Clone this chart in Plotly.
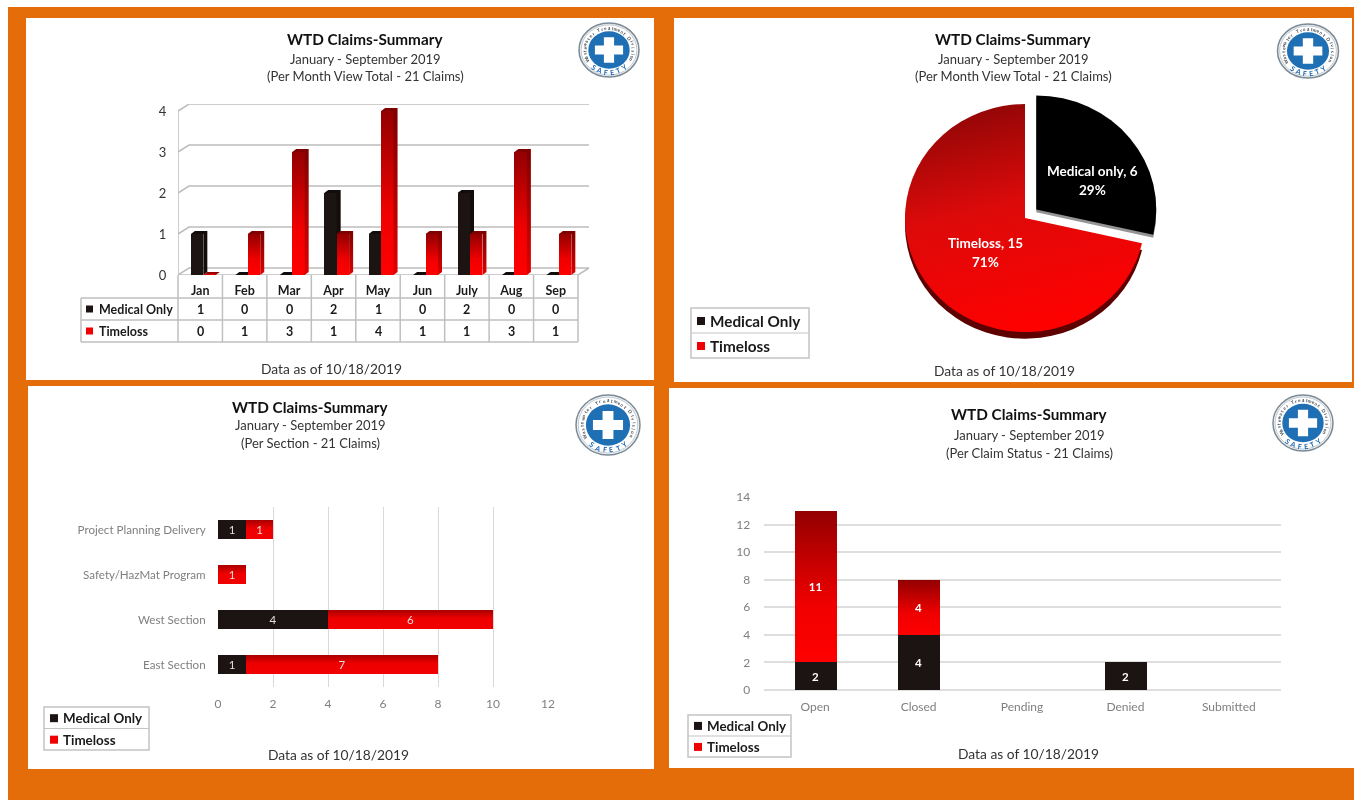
import math
import plotly.graph_objects as go

W, H = 1354, 800
ORANGE = "#E46D0A"
BLACK = "#1C1412"
RED = "#FF0000"
GRAY_TXT = "#7F7F7F"
DARK_TXT = "#262626"
FONT = "Lato"

# ---------- data ----------
months = ["Jan", "Feb", "Mar", "Apr", "May", "Jun", "July", "Aug", "Sep"]
month_medical = [1, 0, 0, 2, 1, 0, 2, 0, 0]
month_timeloss = [0, 1, 3, 1, 4, 1, 1, 3, 1]
pie_labels = ["Medical only", "Timeloss"]
pie_values = [6, 15]
sections = ["East Section", "West Section", "Safety/HazMat Program", "Project Planning Delivery"]
section_medical = [1, 4, 0, 1]
section_timeloss = [7, 6, 1, 1]
statuses = ["Open", "Closed", "Pending", "Denied", "Submitted"]
status_medical = [2, 4, 0, 2, 0]
status_timeloss = [11, 4, 0, 0, 0]
month_ticks = [0, 1, 2, 3, 4]
section_ticks = [0, 2, 4, 6, 8, 10, 12]
status_ticks = [0, 2, 4, 6, 8, 10, 12, 14]
title_main = "WTD Claims-Summary"
title_period = "January - September 2019"
subtitles = ["(Per Month View Total - 21 Claims)", "(Per Month View Total - 21 Claims)",
             "(Per Section - 21 Claims)", "(Per Claim Status - 21 Claims)"]
data_note = "Data as of 10/18/2019"
series_names = ["Medical Only", "Timeloss"]


def px(x):
    return x / W


def py(y):
    return 1 - y / H


shapes, annotations = [], []


def rect(x0, y0, x1, y1, fill=None, line=None, lw=1, layer="below"):
    shapes.append(dict(type="rect", xref="paper", yref="paper", x0=px(x0), x1=px(x1), y0=py(y0), y1=py(y1),
                       fillcolor=fill or "rgba(0,0,0,0)", line=dict(color=line or "rgba(0,0,0,0)", width=lw if line else 0),
                       layer=layer))


def hline(x0, y0, x1, y1, color="#BFBFBF", lw=1.5, layer="below"):
    shapes.append(dict(type="line", xref="paper", yref="paper", x0=px(x0), x1=px(x1), y0=py(y0), y1=py(y1),
                       line=dict(color=color, width=lw), layer=layer))


def text(x, y, s, size=12, color=DARK_TXT, bold=False, anchor="center", angle=0):
    annotations.append(dict(xref="paper", yref="paper", x=px(x), y=py(y), text=f"<b>{s}</b>" if bold else s,
                            showarrow=False, xanchor=anchor, yanchor="middle", textangle=angle,
                            font=dict(family=FONT, size=size, color=color)))


def titles(cx, ys, sub, note_x, note_y):
    text(cx, ys[0] - 0.5, title_main, size=15.3, color="#111111", bold=True)
    text(cx, ys[1], title_period, size=13, color="#333333")
    text(cx, ys[2], sub, size=13, color="#333333")
    text(note_x, note_y, data_note, size=13.8, color="#333333")


def legend(x0, y0, x1, y1, size):
    rect(x0, y0, x1, y1, fill="white", line="#C4C4C4", lw=1.5)
    mid = (y0 + y1) / 2
    hline(x0, mid, x1, mid, color="#C4C4C4", lw=1.2)
    for i, (name, col) in enumerate(zip(series_names, [BLACK, "#F00000"])):
        yc = y0 + (y1 - y0) * (0.26 + 0.5 * i)
        rect(x0 + 6, yc - 4, x0 + 14, yc + 4, fill=col)
        text(x0 + 17, yc, name, size=size, color="#1A1A1A", bold=True, anchor="left")


LOGO_TOP = "Wastewater Treatment Division"
LOGO_BOTTOM = "SAFETY"


def logo(cx, cy, rx, ry):
    def ell(rx_, ry_, fill, line=None, lw=0):
        shapes.append(dict(type="circle", xref="paper", yref="paper", x0=px(cx - rx_), x1=px(cx + rx_),
                           y0=py(cy - ry_), y1=py(cy + ry_), fillcolor=fill,
                           line=dict(color=line or "rgba(0,0,0,0)", width=lw), layer="above"))
    ell(rx, ry, "#F2F2F2", "#7A8A96", 1.5)
    ell(rx * 0.93, ry * 0.93, "white", "#B5BEC6", 0.8)
    ell(rx * 0.69, ry * 0.69, "#1F6FB5")
    a, b = rx * 0.47, ry * 0.47
    t_x, t_y = rx * 0.17, ry * 0.17
    path = (f"M {px(cx-t_x)} {py(cy-b)} L {px(cx+t_x)} {py(cy-b)} L {px(cx+t_x)} {py(cy-t_y)} "
            f"L {px(cx+a)} {py(cy-t_y)} L {px(cx+a)} {py(cy+t_y)} L {px(cx+t_x)} {py(cy+t_y)} "
            f"L {px(cx+t_x)} {py(cy+b)} L {px(cx-t_x)} {py(cy+b)} L {px(cx-t_x)} {py(cy+t_y)} "
            f"L {px(cx-a)} {py(cy+t_y)} L {px(cx-a)} {py(cy-t_y)} L {px(cx-t_x)} {py(cy-t_y)} Z")
    shapes.append(dict(type="path", xref="paper", yref="paper", path=path, fillcolor="white",
                       line=dict(width=0), layer="above"))
    n = len(LOGO_TOP)
    span = 235.0
    for i, ch in enumerate(LOGO_TOP):
        ang = -span / 2 + span * i / (n - 1)
        r = math.radians(ang)
        text(cx + rx * 0.82 * math.sin(r), cy - ry * 0.82 * math.cos(r), ch, size=4.6, color="#404A52",
             bold=True, angle=ang)
    n = len(LOGO_BOTTOM)
    span = 76.0
    for i, ch in enumerate(LOGO_BOTTOM):
        ang = -span / 2 + span * i / (n - 1)
        r = math.radians(ang)
        text(cx + rx * 0.82 * math.sin(r), cy + ry * 0.82 * math.cos(r), ch, size=7, color="#1A66B0",
             bold=True, angle=-ang)


# ---------- panels ----------
rect(8, 7, W, H, fill=ORANGE)
rect(26, 18, 654, 380, fill="white")
rect(674, 18, 1352, 382, fill="white")
rect(28, 386, 654, 769, fill="white")
rect(669, 388, W, 768, fill="white")

titles(365, (40, 59, 76), subtitles[0], 331, 368)
titles(1013, (40, 59, 76), subtitles[1], 1005, 370)
titles(310, (407, 425, 443), subtitles[2], 338, 754)
titles(1029, (415, 435, 453), subtitles[3], 1028, 753)
logo(609, 50, 30, 27)
logo(1308, 51, 30.5, 27)
logo(608, 425, 32, 30)
logo(1303, 423, 30, 28)
legend(691, 308, 809, 358, 15.3)
legend(44, 707, 149, 750, 13.4)
legend(688, 715, 791, 757, 13.4)

fig = go.Figure()

# ---------- panel 1: pseudo 3-D clustered columns with data table ----------
P1_X0, P1_X1, P1_Y0, P1_Y4 = 178, 578, 275, 111
WALL_PX_X, WALL_PX_Y = 11, 7
cat_px = (P1_X1 - P1_X0) / len(months)
unit_px = (P1_Y0 - P1_Y4) / 4
wall_dx = WALL_PX_X / cat_px
wall_dy = WALL_PX_Y / unit_px
left, right = -0.5, len(months) - 0.5
wall_x, wall_y = [], []
for t in month_ticks:
    wall_x += [left, left + wall_dx, right + wall_dx, None]
    wall_y += [t, t + wall_dy, t + wall_dy, None]
wall_x += [left, left, None, right, right + wall_dx, None, left, right]
wall_y += [month_ticks[0], month_ticks[-1], None, 0, wall_dy, None, 0, 0]
fig.add_trace(go.Scatter(x=wall_x, y=wall_y, mode="lines", line=dict(color="#BDBDBD", width=1.5),
                         cliponaxis=False, hoverinfo="skip", showlegend=False, zorder=0))

bar_w = 0.28
side_dx = 4 / cat_px
side_dy = 3 / unit_px
series = [(series_names[0], month_medical, BLACK, -0.21, 1),
          (series_names[1], month_timeloss, RED, 0.07, 3)]
for name, vals, col, off, z in series:
    fig.add_trace(go.Bar(x=list(range(len(months))), y=vals, name=name, width=bar_w, offset=off,
                         marker=dict(color=col, line=dict(width=0)), showlegend=False, zorder=z))
    for i, v in enumerate(vals):
        xl = i + off
        xr = xl + bar_w
        kw = dict(fillcolor="#120C0B") if col == BLACK else dict(
            fillgradient=dict(type="vertical", colorscale=[[0, "#E00000"], [1, "#7E0000"]]))
        fig.add_trace(go.Scatter(
            x=[xr, xr + side_dx, xr + side_dx, xl + side_dx, xl, xr, xr],
            y=[0, side_dy, v + side_dy, v + side_dy, v, v, 0],
            mode="lines", line=dict(width=0), fill="toself", cliponaxis=False,
            hoverinfo="skip", showlegend=False, zorder=z + 1, **kw))

# data table
col_edges = [P1_X0 + cat_px * i for i in range(len(months) + 1)]
for xe in col_edges:
    hline(xe, P1_Y0, xe, 342)
hline(81, 298, 81, 342)
for yr in (298, 320, 342):
    hline(81, yr, P1_X1, yr)
for row, (name, vals, col, yc) in enumerate([(series_names[0], month_medical, BLACK, 309),
                                             (series_names[1], month_timeloss, "#F00000", 331)]):
    rect(86, yc - 3.5, 93, yc + 3.5, fill=col)
    text(97, yc, name, size=12.5, color="#1A1A1A", bold=True, anchor="left")
    for i, v in enumerate(vals):
        annotations.append(dict(xref="x", yref="paper", x=i, y=py(yc), text=f"<b>{v}</b>", showarrow=False,
                                font=dict(family=FONT, size=12.5, color="#1A1A1A")))

# ---------- panel 2: exploded pie ----------
PC_X, PC_Y, PC_R = 1025, 218, 134.4
PIE_SQUASH = 0.95
PIE_PULL = [0.12, 0]
for dy_, colors_ in [(7, ["rgba(0,0,0,0)", "#5E0000"]), (3, ["rgba(60,60,60,0.55)", "rgba(0,0,0,0)"])]:
    fig.add_trace(go.Pie(values=pie_values, labels=pie_labels, sort=False, direction="clockwise", rotation=0,
                         pull=PIE_PULL, textinfo="none", hoverinfo="skip", showlegend=False,
                         marker=dict(colors=colors_, line=dict(width=0)),
                         domain=dict(x=[px(PC_X - PC_R), px(PC_X + PC_R)],
                                     y=[py(PC_Y + dy_ + PC_R), py(PC_Y + dy_ - PC_R)])))
fig.add_trace(go.Pie(values=pie_values, labels=pie_labels, sort=False, direction="clockwise", rotation=0,
                     pull=PIE_PULL, textinfo="none", showlegend=False,
                     marker=dict(colors=["#000000", RED], line=dict(width=0)),
                     domain=dict(x=[px(PC_X - PC_R), px(PC_X + PC_R)],
                                 y=[py(PC_Y + PC_R), py(PC_Y - PC_R)])))
for lab, val, x_, y_ in zip(pie_labels, pie_values, (1092, 985), (171, 243)):
    text(x_, y_, f"{lab}, {val}", size=13.5, color="white", bold=True)
    text(x_, y_ + 19, f"{round(100 * val / sum(pie_values))}%", size=13.5, color="white", bold=True)


def label_vals(vals, bold=False):
    return [(f"<b>{v}</b>" if bold else str(v)) if v else "" for v in vals]


# ---------- panel 3: stacked horizontal bars ----------
fig.add_trace(go.Bar(y=sections, x=section_medical, orientation="h", name=series_names[0], xaxis="x2", yaxis="y2",
                     width=0.41, marker=dict(color=BLACK, line=dict(width=0)), text=label_vals(section_medical),
                     textposition="inside", insidetextanchor="middle", textangle=0, constraintext="none",
                     textfont=dict(family=FONT, size=11.5, color="#E4DCDC"), showlegend=False))
fig.add_trace(go.Bar(y=sections, x=section_timeloss, base=section_medical, orientation="h", name=series_names[1],
                     xaxis="x2", yaxis="y2", width=0.41, marker=dict(color=RED, line=dict(width=0)),
                     text=label_vals(section_timeloss), textposition="inside", insidetextanchor="middle",
                     textangle=0, constraintext="none", textfont=dict(family=FONT, size=11.5, color="#E4DCDC"),
                     showlegend=False))

# ---------- panel 4: stacked columns ----------
fig.add_trace(go.Bar(x=statuses, y=status_medical, name=series_names[0], xaxis="x3", yaxis="y3", width=0.405,
                     marker=dict(color=BLACK, line=dict(width=0)), text=label_vals(status_medical, True),
                     textposition="inside", insidetextanchor="middle", textangle=0, constraintext="none",
                     textfont=dict(family=FONT, size=11.5, color="white"), showlegend=False))
fig.add_trace(go.Bar(x=statuses, y=status_timeloss, base=status_medical, name=series_names[1], xaxis="x3", yaxis="y3",
                     width=0.405, marker=dict(color=RED, line=dict(width=0)), text=label_vals(status_timeloss, True),
                     textposition="inside", insidetextanchor="middle", textangle=0, constraintext="none",
                     textfont=dict(family=FONT, size=11.5, color="white"), showlegend=False))

tick_font = dict(family=FONT, size=12, color=GRAY_TXT)
fig.update_layout(
    width=W, height=H, autosize=False, margin=dict(l=0, r=0, t=0, b=0, autoexpand=False),
    paper_bgcolor="white", plot_bgcolor="rgba(0,0,0,0)", barmode="overlay", bargap=0,
    font=dict(family=FONT), shapes=shapes, annotations=annotations, showlegend=False,
    xaxis=dict(domain=[px(P1_X0), px(P1_X1 + WALL_PX_X)], range=[left, right + wall_dx], tickmode="array",
               tickvals=list(range(len(months))), ticktext=[f"<b>{m}</b>" for m in months],
               tickfont=dict(family=FONT, size=12.5, color="#1A1A1A"), ticks="outside", ticklen=4,
               tickcolor="rgba(0,0,0,0)", showgrid=False, zeroline=False, showline=False, fixedrange=True),
    yaxis=dict(domain=[py(P1_Y0), py(P1_Y4 - WALL_PX_Y)], range=[0, month_ticks[-1] + wall_dy], tickmode="array",
               tickvals=month_ticks, tickfont=dict(family=FONT, size=13, color="#333333"), ticks="outside", ticklen=8,
               tickcolor="rgba(0,0,0,0)", showgrid=False, zeroline=False, showline=False, fixedrange=True),
    xaxis2=dict(domain=[px(218), px(548)], range=[0, 12], anchor="y2", tickmode="array", tickvals=section_ticks,
                tickfont=tick_font, gridcolor="#D9D9D9", gridwidth=1.2, zeroline=False, showline=False, ticks="outside",
                ticklen=6, tickcolor="rgba(0,0,0,0)", fixedrange=True),
    yaxis2=dict(domain=[py(687), py(507)], range=[-0.5, 3.5], anchor="x2", type="category",
                categoryorder="array", categoryarray=sections,
                tickfont=dict(family=FONT, size=11.6, color=GRAY_TXT), showgrid=False,
                zeroline=False, showline=False, ticks="outside", ticklen=9, tickcolor="rgba(0,0,0,0)", fixedrange=True),
    xaxis3=dict(domain=[px(763.5), px(1280.5)], range=[-0.5, 4.5], anchor="y3", type="category",
                categoryorder="array", categoryarray=statuses, tickfont=tick_font, showgrid=False, zeroline=False,
                showline=False, ticks="outside", ticklen=6, tickcolor="rgba(0,0,0,0)", fixedrange=True),
    yaxis3=dict(domain=[py(690), py(497)], range=[0, 14], anchor="x3", tickmode="array", tickvals=status_ticks,
                tickfont=tick_font, gridcolor="#DEDEDE", gridwidth=1.5, zeroline=True, zerolinecolor="#DEDEDE",
                zerolinewidth=1.5, showline=False, ticks="outside", ticklen=10, tickcolor="rgba(0,0,0,0)", fixedrange=True),
)

post = """
document.body.style.margin = '0';
document.documentElement.style.overflow = 'hidden';
var gd = document.getElementById('{plot_id}');
var ns = 'http://www.w3.org/2000/svg';
var svg = gd.querySelector('svg.main-svg');
var defs = svg.querySelector('defs') || svg.insertBefore(document.createElementNS(ns, 'defs'), svg.firstChild);
function grad(id, stops, x1, y1, x2, y2) {
  var g = document.createElementNS(ns, 'linearGradient');
  g.setAttribute('id', id);
  g.setAttribute('x1', x1); g.setAttribute('y1', y1); g.setAttribute('x2', x2); g.setAttribute('y2', y2);
  stops.forEach(function (s) {
    var e = document.createElementNS(ns, 'stop');
    e.setAttribute('offset', s[0]); e.setAttribute('stop-color', s[1]);
    g.appendChild(e);
  });
  defs.appendChild(g);
}
grad('gradCol', [[0, '#930000'], [0.62, '#F00000'], [1, '#FF0000']], 0, 0, 0, 1);
grad('gradHoriz', [[0, '#A80000'], [0.45, '#EE0000'], [1, '#F20000']], 0, 0, 0, 1);
grad('gradPie', [[0, '#8E0606'], [0.45, '#DC0A0A'], [1, '#FF0000']], 0.25, 0, 0.5, 1);
gd.querySelectorAll('.bars .point path').forEach(function (p) {
  if (p.style.fill.indexOf('255, 0, 0') >= 0) {
    var sub = p.closest('.subplot');
    p.style.fill = (sub && sub.classList.contains('x2y2')) ? 'url(#gradHoriz)' : 'url(#gradCol)';
  }
});
gd.querySelectorAll('.pielayer .slice path.surface').forEach(function (p) {
  if (p.style.fill.indexOf('255, 0, 0') >= 0) { p.style.fill = 'url(#gradPie)'; }
});
var squash = PIE_SQUASH_VAL, cy = PIE_CY_VAL;
gd.querySelector('.pielayer').setAttribute('transform', 'matrix(1 0 0 ' + squash + ' 0 ' + (cy * (1 - squash)) + ')');
gd.style.filter = 'blur(0.55px)';
""".replace("PIE_SQUASH_VAL", str(PIE_SQUASH)).replace("PIE_CY_VAL", str(PC_Y))
fig.write_html("out.html", post_script=post, config={"displayModeBar": False})
